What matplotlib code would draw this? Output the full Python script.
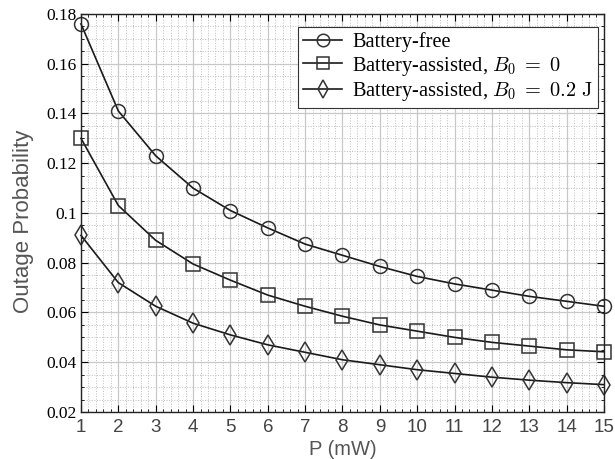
import matplotlib.pyplot as plt
from matplotlib.ticker import MultipleLocator

plt.rcParams['mathtext.fontset'] = 'cm'

p_mw = [1, 2, 3, 4, 5, 6, 7, 8, 9, 10, 11, 12, 13, 14, 15]
battery_free = [0.176, 0.141, 0.123, 0.110, 0.101, 0.094, 0.0875, 0.083,
                0.0785, 0.0745, 0.0715, 0.069, 0.0665, 0.0645, 0.0625]
assisted_b0 = [0.130, 0.103, 0.089, 0.0795, 0.073, 0.067, 0.0625, 0.0585,
               0.055, 0.0525, 0.050, 0.048, 0.0465, 0.045, 0.0442]
assisted_b02 = [0.091, 0.072, 0.0625, 0.0557, 0.051, 0.047, 0.044, 0.041,
                0.039, 0.037, 0.0355, 0.034, 0.0328, 0.0318, 0.031]
labels = ['Battery-free', r'Battery-assisted, $B_0\;=\;0$',
          r'Battery-assisted, $B_0\;=\;0.2\ \mathrm{J}$']

fig = plt.figure(figsize=(6.15, 4.59), dpi=100)
ax = fig.add_axes([0.1317, 0.1024, 0.8503, 0.8671])

line_kw = dict(color='#1a1a1a', linewidth=1.2, markersize=10,
               markerfacecolor='none', markeredgecolor='#333333',
               markeredgewidth=1.1, clip_on=False)
ax.plot(p_mw, battery_free, marker='o', label=labels[0], **line_kw)
ax.plot(p_mw, assisted_b0, marker='s', label=labels[1], **line_kw)
ax.plot(p_mw, assisted_b02, marker='d', label=labels[2], **line_kw)

ax.set_xlim(1, 15)
ax.set_ylim(0.02, 0.18)
ax.xaxis.set_major_locator(MultipleLocator(1))
ax.xaxis.set_minor_locator(MultipleLocator(0.2))
ax.yaxis.set_minor_locator(MultipleLocator(0.005))
ax.set_yticks([0.02, 0.04, 0.06, 0.08, 0.1, 0.12, 0.14, 0.16, 0.18])
ax.set_yticklabels(['0.02', '0.04', '0.06', '0.08', '0.1', '0.12', '0.14', '0.16', '0.18'])

ax.grid(True, which='major', color='#c8c8c8', linewidth=0.9)
ax.grid(True, which='minor', color='#bdbdbd', linestyle=':', linewidth=0.7)
ax.set_axisbelow(True)

ax.tick_params(which='both', direction='in', top=True, right=True)
ax.tick_params(which='major', length=5, width=0.8)
ax.tick_params(which='minor', length=2.5, width=0.6)
ax.tick_params(axis='x', labelsize=13.5, labelcolor='#444444', pad=5)
ax.tick_params(axis='y', pad=3)
for t in ax.get_xticklabels():
    t.set_fontfamily('Liberation Sans')
for t in ax.get_yticklabels():
    t.set_fontfamily('Liberation Serif')
    t.set_fontsize(12.5)
for s in ax.spines.values():
    s.set_color('#222222')
    s.set_linewidth(1.0)

ax.set_xlabel('P (mW)', fontsize=14.5, color='#555555',
              fontfamily='Liberation Sans', labelpad=3)
ax.set_ylabel('Outage Probability', fontsize=16, color='#555555',
              fontfamily='Liberation Sans')
ax.yaxis.set_label_coords(-0.09, 0.48)

leg = ax.legend(loc='upper right', bbox_to_anchor=(0.9885, 0.967),
                prop={'family': 'Liberation Serif', 'size': 14.7},
                fancybox=False, edgecolor='#333333', framealpha=1,
                borderaxespad=0, handlelength=1.9, handletextpad=0.5,
                borderpad=0.25, labelspacing=0.12, markerscale=0.9)
leg.get_frame().set_linewidth(0.8)

fig.savefig('out.png', dpi=100)
